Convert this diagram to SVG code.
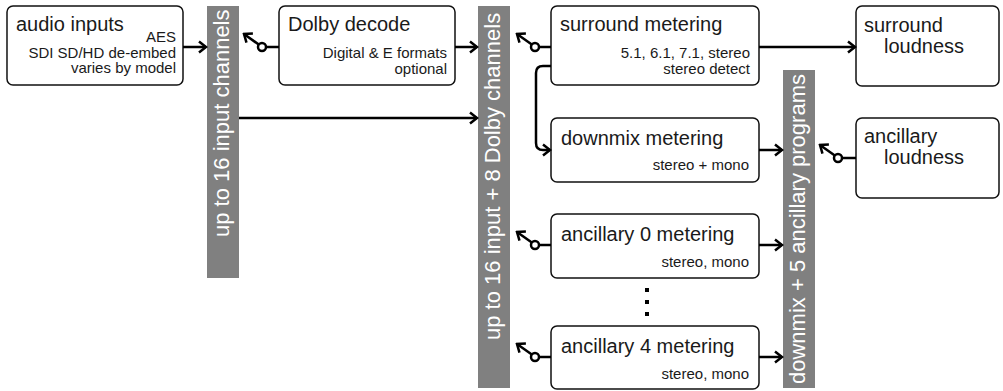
<svg xmlns="http://www.w3.org/2000/svg" width="1003" height="391" viewBox="0 0 1003 391">
<style>
.box{fill:#fff;stroke:#111;stroke-width:1.5}
.bar{fill:#808080}
.t{font-family:"Liberation Sans",Arial,sans-serif;font-size:20px;fill:#1a1a1a}
.s{font-family:"Liberation Sans",Arial,sans-serif;font-size:15px;fill:#1a1a1a;text-anchor:end}
.bt{font-family:"Liberation Sans",Arial,sans-serif;font-size:22px;fill:#fff}
.c{fill:none;stroke:#000;stroke-width:2.5}
.sw{fill:#fff;stroke:#000;stroke-width:2.5}
</style>
<defs>
<marker id="ah" markerUnits="userSpaceOnUse" markerWidth="12" markerHeight="16" viewBox="-2 -2 12 16" refX="8" refY="6" orient="auto">
<path d="M1,0.5 L8,6 L1,11.5" fill="none" stroke="#000" stroke-width="2.5"/>
</marker>
</defs>
<g id="bar-input">
<rect class="bar" x="207" y="6" width="32" height="272"/>
<text class="bt" transform="translate(229,237) rotate(-90)">up to 16 input channels</text>
</g>
<g id="bar-dolby">
<rect class="bar" x="478" y="6" width="32" height="382"/>
<text class="bt" transform="translate(500,340) rotate(-90)">up to 16 input + 8 Dolby channels</text>
</g>
<g id="bar-programs">
<rect class="bar" x="783" y="70" width="32" height="318"/>
<text class="bt" transform="translate(805,384) rotate(-90)">downmix + 5 ancillary programs</text>
</g>
<g id="audio-inputs">
<rect class="box" x="7" y="6" width="176" height="79" rx="6"/>
<text class="t" x="16" y="31">audio inputs</text>
<text class="s" x="176" y="42">AES</text>
<text class="s" x="176" y="57.5">SDI SD/HD de-embed</text>
<text class="s" x="176" y="73">varies by model</text>
</g>
<g id="dolby-decode">
<rect class="box" x="279" y="6" width="176" height="79" rx="6"/>
<text class="t" x="288" y="31">Dolby decode</text>
<text class="s" x="447" y="57.5">Digital &amp; E formats</text>
<text class="s" x="447" y="74">optional</text>
</g>
<g id="surround-metering">
<rect class="box" x="551" y="6" width="208" height="79" rx="6"/>
<text class="t" x="560" y="31">surround metering</text>
<text class="s" x="750" y="57.5">5.1, 6.1, 7.1, stereo</text>
<text class="s" x="750" y="74">stereo detect</text>
</g>
<g id="downmix-metering">
<rect class="box" x="551" y="118" width="208" height="64" rx="6"/>
<text class="t" x="561" y="145">downmix metering</text>
<text class="s" x="749" y="170">stereo + mono</text>
</g>
<g id="ancillary-0-metering">
<rect class="box" x="551" y="214" width="208" height="64" rx="6"/>
<text class="t" x="561" y="241">ancillary 0 metering</text>
<text class="s" x="749" y="267">stereo, mono</text>
</g>
<g id="ellipsis">
<rect x="645" y="288" width="4" height="4" fill="#000"/>
<rect x="645" y="300" width="4" height="4" fill="#000"/>
<rect x="645" y="312" width="4" height="4" fill="#000"/>
</g>
<g id="ancillary-4-metering">
<rect class="box" x="551" y="326" width="208" height="63" rx="6"/>
<text class="t" x="561" y="353">ancillary 4 metering</text>
<text class="s" x="749" y="379">stereo, mono</text>
</g>
<g id="surround-loudness">
<rect class="box" x="856" y="6" width="143" height="80" rx="6"/>
<text class="t" x="864" y="32">surround</text>
<text class="t" x="884" y="53">loudness</text>
</g>
<g id="ancillary-loudness">
<rect class="box" x="856" y="118" width="143" height="80" rx="6"/>
<text class="t" x="864" y="143">ancillary</text>
<text class="t" x="884" y="164">loudness</text>
</g>
<g id="connectors">
<path class="c" d="M183,47 H206" marker-end="url(#ah)"/>
<path class="c" d="M239,118 H477" marker-end="url(#ah)"/>
<path class="c" d="M455,47 H477" marker-end="url(#ah)"/>
<path class="c" d="M759,47 H855" marker-end="url(#ah)"/>
<path class="c" d="M759,150 H782" marker-end="url(#ah)"/>
<path class="c" d="M759,245 H782" marker-end="url(#ah)"/>
<path class="c" d="M759,357 H782" marker-end="url(#ah)"/>
<path class="c" d="M551,66 H543 Q536,66 536,73 V143 Q536,150 543,150 H550" marker-end="url(#ah)"/>
<path class="c" d="M279,47 H266"/>
<path class="c" d="M258.8,44.6 L244,34" marker-end="url(#ah)"/>
<circle class="sw" cx="262" cy="47" r="4"/>
<path class="c" d="M551,47 H539"/>
<path class="c" d="M531.8,44.6 L517,34" marker-end="url(#ah)"/>
<circle class="sw" cx="535" cy="47" r="4"/>
<path class="c" d="M551,245 H539"/>
<path class="c" d="M531.8,242.6 L517,232" marker-end="url(#ah)"/>
<circle class="sw" cx="535" cy="245" r="4"/>
<path class="c" d="M551,357 H539"/>
<path class="c" d="M531.8,354.6 L517,344" marker-end="url(#ah)"/>
<circle class="sw" cx="535" cy="357" r="4"/>
<path class="c" d="M856,158 H842"/>
<path class="c" d="M834.8,155.6 L820,145" marker-end="url(#ah)"/>
<circle class="sw" cx="838" cy="158" r="4"/>
</g>
</svg>
